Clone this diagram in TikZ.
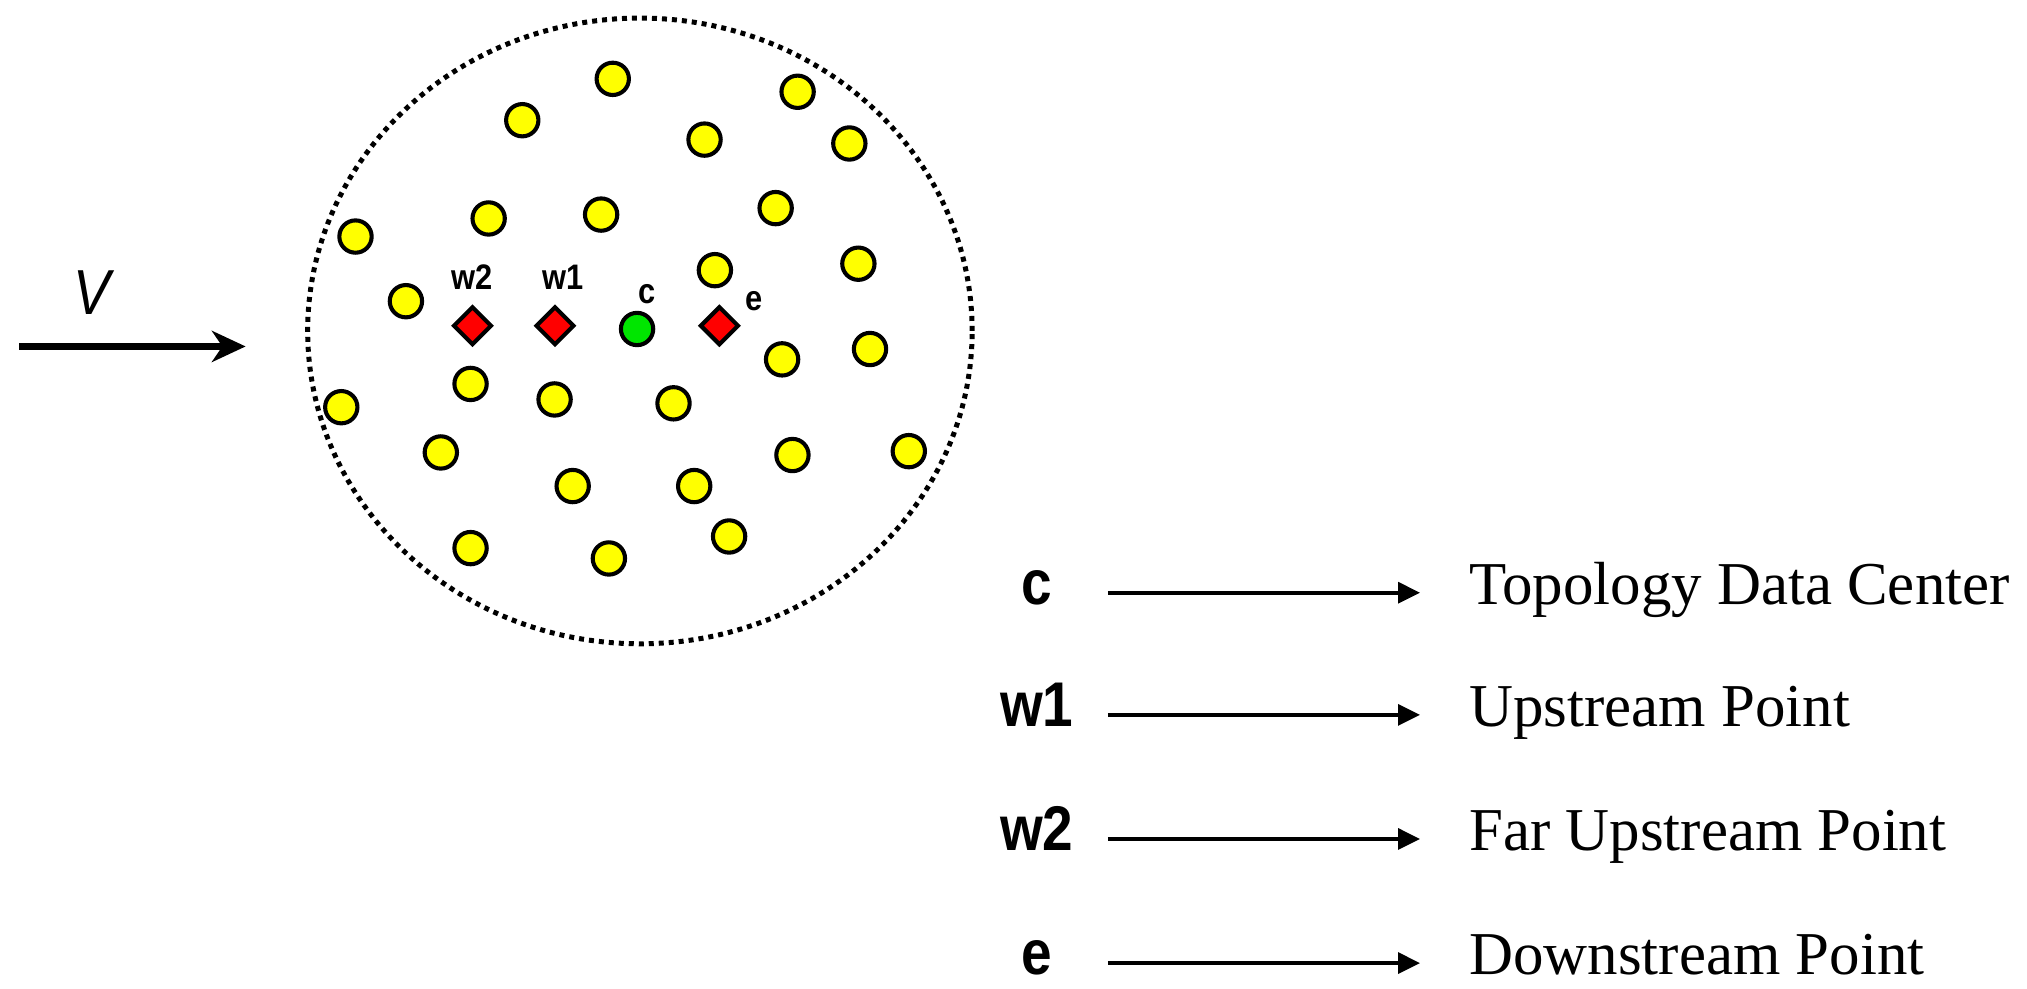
\documentclass[tikz,border=0pt]{standalone}
\usepackage{fontspec}
\setmainfont{Liberation Serif}
\setsansfont{Liberation Sans}
\newfontfamily\narrowsans[FakeStretch=0.87]{Liberation Sans}
\usetikzlibrary{arrows.meta,shapes.geometric,positioning}
\definecolor{dotyellow}{RGB}{255,255,0}
\definecolor{dotgreen}{RGB}{0,230,0}
\definecolor{dotred}{RGB}{255,0,0}

\begin{document}
\begin{tikzpicture}[
    site/.style={circle, draw, line width=0.9pt, fill=dotyellow, minimum size=0.25cm, inner sep=0pt},
    hub/.style={site, fill=dotgreen},
    probe/.style={diamond, draw, line width=0.9pt, fill=dotred, minimum width=0.3cm, minimum height=0.3cm, inner sep=0pt},
    ptlabel/.style={font=\narrowsans\bfseries\fontsize{7.8}{9}\selectfont, inner sep=0pt},
    keylabel/.style={font=\narrowsans\bfseries\fontsize{13.9}{16}\selectfont, inner sep=0pt, anchor=base},
    meaning/.style={font=\fontsize{13.4}{16}\selectfont, inner sep=0pt, anchor=base west},
    keyarrow/.style={-{Triangle[length=0.17cm,width=0.16cm]}, line width=0.9pt},
    flow/.style={-{Stealth[length=0.26cm,width=0.24cm,inset=0.08cm]}, line width=1.4pt},
]
    \useasboundingbox (0,0) rectangle (15.68,7.65);

    % Flow direction
    \coordinate (vs) at (0.15,4.97);
    \coordinate (vt) at (1.90,4.97);
    \draw[flow] (vs) -- (vt);
    \node[font=\narrowsans\itshape\fontsize{14}{16}\selectfont, inner sep=0pt] (vlab) at (0.71,5.39) {V};

    % Region boundary
    \draw[line width=1.1pt, dash pattern=on 1.1pt off 1.1pt] (4.95,5.09) ellipse [x radius=2.57, y radius=2.42];

    % Stations
    \foreach \x/\y [count=\i] in {4.74/7.04, 6.17/6.94, 4.04/6.72, 5.45/6.57, 6.57/6.54,
        3.78/5.96, 4.65/5.99, 6.00/6.04, 2.75/5.82, 6.64/5.61, 5.53/5.56, 3.14/5.32,
        6.05/4.87, 6.73/4.95, 3.64/4.68, 4.29/4.56, 5.21/4.53, 2.64/4.50, 3.41/4.15,
        6.13/4.13, 7.03/4.16, 4.43/3.89, 5.37/3.89, 3.64/3.41, 4.71/3.33, 5.64/3.50}
        \node[site] (s\i) at (\x,\y) {};

    % Reference points
    \node[probe] (w2) at (3.655,5.13) {};
    \node[probe] (w1) at (4.293,5.13) {};
    \node[hub] (c) at (4.928,5.105) {};
    \node[probe] (e) at (5.565,5.13) {};
    \node[ptlabel, above=0.11cm of w2] (w2lab) {w2};
    \node[ptlabel, above=0.11cm of w1, xshift=0.06cm] (w1lab) {w1};
    \node[ptlabel, above=0.05cm of c, xshift=0.08cm] (clab) {c};
    \node[ptlabel, right=0.03cm of e, yshift=0.19cm] (elab) {e};

    % Legend
    \foreach \k/\txt/\y [count=\i] in {c/Topology Data Center/3.065, w1/Upstream Point/2.12,
        w2/Far Upstream Point/1.16, e/Downstream Point/0.20} {
        \node[keylabel] (k\i) at (8.02,\y-0.09) {\k};
        \coordinate (a\i) at (8.57,\y);
        \node[meaning] (m\i) at (11.36,\y-0.09) {\txt};
        \draw[keyarrow, shorten >=0.375cm] (a\i) -- (a\i -| m\i.west);
    }
\end{tikzpicture}
\end{document}
